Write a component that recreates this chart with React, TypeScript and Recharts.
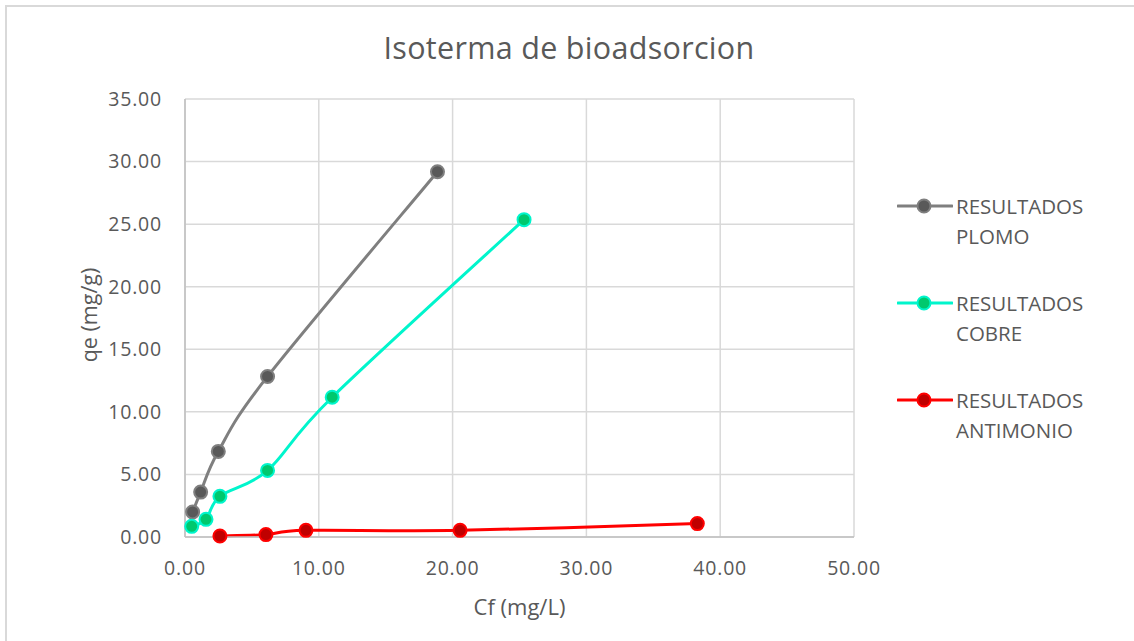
import React from 'react';
import { LineChart, Line, XAxis, YAxis, CartesianGrid, Label } from 'recharts';

// Cf (mg/L) vs qe (mg/g) per metal
const cfPlomo = [0.57, 1.17, 2.49, 6.17, 18.87];
const qePlomo = [2.0, 3.59, 6.84, 12.83, 29.19];

const cfCobre = [0.5, 1.57, 2.61, 6.17, 11.0, 25.34];
const qeCobre = [0.85, 1.41, 3.25, 5.32, 11.17, 25.36];

const cfAntimonio = [2.61, 6.05, 9.04, 20.56, 38.29];
const qeAntimonio = [0.08, 0.19, 0.53, 0.53, 1.07];

const xTicks = [0, 10, 20, 30, 40, 50];
const yTicks = [0, 5, 10, 15, 20, 25, 30, 35];

const toPoints = (xs: number[], ys: number[]) => xs.map((x, i) => ({ x, y: ys[i] }));

const series = [
    { name: 'RESULTADOS PLOMO', lines: ['RESULTADOS', 'PLOMO'], data: toPoints(cfPlomo, qePlomo), line: '#7f7f7f', dot: '#595959' },
    { name: 'RESULTADOS COBRE', lines: ['RESULTADOS', 'COBRE'], data: toPoints(cfCobre, qeCobre), line: '#00f5cc', dot: '#00c86e' },
    { name: 'RESULTADOS ANTIMONIO', lines: ['RESULTADOS', 'ANTIMONIO'], data: toPoints(cfAntimonio, qeAntimonio), line: '#ff0000', dot: '#c00000' },
];

const FONT = '"Open Sans", sans-serif';
const TEXT = '#595959';

// smoothed line like a spreadsheet "smooth line": Catmull-Rom through every point
const smoothCurve = (ctx: any) => {
    let pts: [number, number][] = [];
    return {
        areaStart() {},
        areaEnd() {},
        lineStart() {
            pts = [];
        },
        point(x: number, y: number) {
            pts.push([+x, +y]);
        },
        lineEnd() {
            if (!pts.length) return;
            ctx.moveTo(pts[0][0], pts[0][1]);
            for (let i = 0; i < pts.length - 1; i++) {
                const p0 = pts[Math.max(i - 1, 0)];
                const p1 = pts[i];
                const p2 = pts[i + 1];
                const p3 = pts[Math.min(i + 2, pts.length - 1)];
                ctx.bezierCurveTo(
                    p1[0] + (p2[0] - p0[0]) / 6,
                    p1[1] + (p2[1] - p0[1]) / 6,
                    p2[0] - (p3[0] - p1[0]) / 6,
                    p2[1] - (p3[1] - p1[1]) / 6,
                    p2[0],
                    p2[1],
                );
            }
        },
    };
};

const App: React.FC = () => {
    return (
        <div style={{ position: 'fixed', left: 0, top: 0, width: 1134, height: 641, overflow: 'hidden', background: '#fff', fontFamily: FONT }}>
            <div style={{ position: 'absolute', left: 5, top: 5, width: 1160, height: 680, border: '2px solid #d9d9d9' }} />
            <div style={{ position: 'absolute', left: 0, top: 26, width: 1138, textAlign: 'center', fontSize: 30.5, color: TEXT, letterSpacing: 0.3 }}>
                Isoterma de bioadsorcion
            </div>
            <div style={{ position: 'absolute', left: 0, top: 0 }}>
                <LineChart width={1134} height={641} margin={{ top: 99, right: 280, bottom: 24, left: 0 }}>
                    <CartesianGrid stroke="#d9d9d9" strokeWidth={1.5} />
                    <XAxis
                        dataKey="x"
                        type="number"
                        domain={[0, 50]}
                        ticks={xTicks}
                        tickFormatter={(v: number) => v.toFixed(2)}
                        height={80}
                        tickSize={0}
                        tickMargin={24}
                        stroke="#bfbfbf"
                        strokeWidth={1.5}
                        tick={{ fill: TEXT, fontSize: 19.5, fontFamily: FONT, letterSpacing: 0.8 }}
                    >
                        <Label value="Cf (mg/L)" position="insideBottom" offset={2} fill={TEXT} fontSize={22} fontFamily={FONT} />
                    </XAxis>
                    <YAxis
                        dataKey="y"
                        type="number"
                        domain={[0, 35]}
                        ticks={yTicks}
                        tickFormatter={(v: number) => v.toFixed(2)}
                        width={185}
                        tickSize={0}
                        tickMargin={23}
                        stroke="#bfbfbf"
                        strokeWidth={1.5}
                        tick={{ fill: TEXT, fontSize: 19.5, fontFamily: FONT, letterSpacing: 0.8 }}
                    >
                        <Label
                            content={() => (
                                <text x={88} y={315} transform="rotate(-90 88 315)" textAnchor="middle" dominantBaseline="central" fill={TEXT} fontSize={21.5} fontFamily={FONT}>
                                    qe (mg/g)
                                </text>
                            )}
                        />
                    </YAxis>
                    {series.map((s) => (
                        <Line
                            key={s.name}
                            data={s.data}
                            dataKey="y"
                            name={s.name}
                            type={smoothCurve as any}
                            stroke={s.line}
                            strokeWidth={3}
                            dot={{ r: 6.5, fill: s.dot, stroke: s.line, strokeWidth: 2 }}
                            activeDot={false}
                            isAnimationActive={false}
                        />
                    ))}
                </LineChart>
            </div>
            {series.map((s, i) => (
                <div key={s.name} style={{ position: 'absolute', left: 897, top: 191 + i * 97, display: 'flex', alignItems: 'flex-start' }}>
                    <svg width={56} height={30} style={{ flex: 'none' }}>
                        <line x1={1} y1={15} x2={55} y2={15} stroke={s.line} strokeWidth={3} strokeLinecap="round" />
                        <circle cx={27} cy={15} r={6.5} fill={s.dot} stroke={s.line} strokeWidth={2} />
                    </svg>
                    <div style={{ marginLeft: 3, color: TEXT, fontSize: 20.5, lineHeight: '30px' }}>
                        {s.lines.map((t) => (
                            <div key={t}>{t}</div>
                        ))}
                    </div>
                </div>
            ))}
        </div>
    );
};

export default App;
